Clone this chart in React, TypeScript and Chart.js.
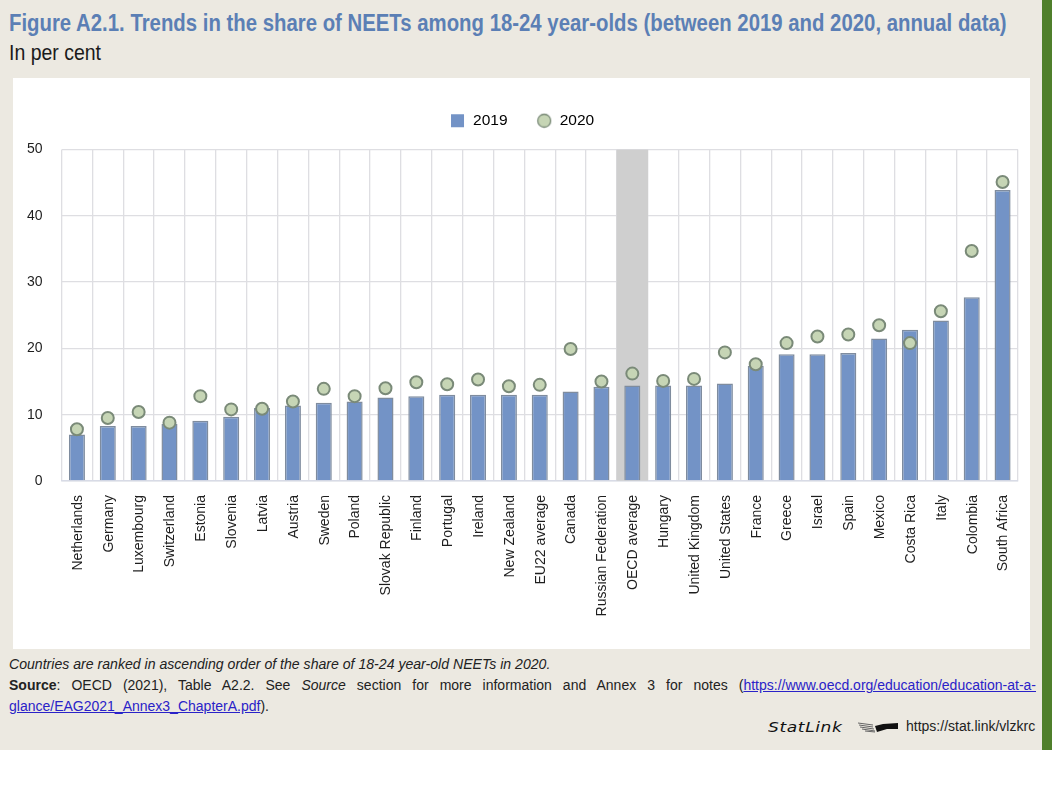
import React, { useEffect, useRef } from 'react';
import { Chart, registerables } from 'chart.js';

Chart.register(...registerables);

const countries = [
  'Netherlands', 'Germany', 'Luxembourg', 'Switzerland', 'Estonia', 'Slovenia', 'Latvia', 'Austria',
  'Sweden', 'Poland', 'Slovak Republic', 'Finland', 'Portugal', 'Ireland', 'New Zealand', 'EU22 average',
  'Canada', 'Russian Federation', 'OECD average', 'Hungary', 'United Kingdom', 'United States', 'France',
  'Greece', 'Israel', 'Spain', 'Mexico', 'Costa Rica', 'Italy', 'Colombia', 'South Africa',
];
const values2019 = [
  7.0, 8.3, 8.3, 8.6, 9.1, 9.7, 11.0, 11.4, 11.8, 12.0, 12.6, 12.8, 13.0, 13.0, 13.0, 13.0,
  13.5, 14.2, 14.4, 14.4, 14.4, 14.7, 17.4, 19.1, 19.1, 19.3, 21.5, 22.8, 24.2, 27.7, 43.9,
];
const values2020 = [
  7.8, 9.5, 10.4, 8.8, 12.8, 10.8, 10.9, 12.0, 13.9, 12.8, 14.0, 14.9, 14.6, 15.3, 14.3, 14.5,
  19.9, 15.0, 16.2, 15.1, 15.4, 19.4, 17.6, 20.8, 21.8, 22.1, 23.5, 20.8, 25.6, 34.7, 45.1,
];
// grey band behind the OECD average column
const oecdBand = countries.map((c) => (c === 'OECD average' ? 50 : null));

const BAR = '#7393C6';
const BAR_EDGE = '#7F8C9E';
const DOT = '#C6D5B5';
const DOT_EDGE = '#7A8A78';
const GRID = '#DEDEE2';
const TEXT = '#1E1E1E';
const ARIAL = '"Liberation Sans", Arial, sans-serif';

// legend circle is smaller than chart.js would draw it next to a 13px square
function legendDot() {
  const c = document.createElement('canvas');
  c.width = 16;
  c.height = 16;
  const ctx = c.getContext('2d')!;
  ctx.beginPath();
  ctx.arc(8, 8, 6.5, 0, Math.PI * 2);
  ctx.fillStyle = DOT;
  ctx.fill();
  ctx.lineWidth = 1.3;
  ctx.strokeStyle = DOT_EDGE;
  ctx.stroke();
  return c;
}

export default function App() {
  const canvasRef = useRef<HTMLCanvasElement>(null);

  useEffect(() => {
    const dot = legendDot();
    const chart = new Chart(canvasRef.current!, {
      data: {
        labels: countries,
        datasets: [
          {
            type: 'line',
            label: '2020',
            data: values2020,
            showLine: false,
            pointStyle: 'circle',
            pointRadius: 6,
            pointBackgroundColor: DOT,
            pointBorderColor: DOT_EDGE,
            pointBorderWidth: 2,
            backgroundColor: DOT,
            borderColor: DOT_EDGE,
            order: 1,
          },
          {
            type: 'bar',
            label: '2019',
            data: values2019,
            backgroundColor: BAR,
            borderColor: BAR_EDGE,
            borderWidth: 1.5,
            barPercentage: 0.52,
            categoryPercentage: 1,
            grouped: false,
            order: 2,
          },
          {
            type: 'bar',
            label: 'OECD band',
            data: oecdBand,
            backgroundColor: '#CFCFCF',
            borderWidth: 0,
            barPercentage: 1,
            categoryPercentage: 1,
            grouped: false,
            order: 3,
          },
        ],
      },
      options: {
        responsive: false,
        animation: false,
        layout: { padding: { top: 6, right: 12, left: 13, bottom: 0 } },
        plugins: {
          tooltip: { enabled: false },
          legend: {
            position: 'top',
            align: 'center',
            labels: {
              usePointStyle: true,
              boxHeight: 13,
              padding: 29,
              color: TEXT,
              font: { family: ARIAL, size: 15.5 },
              generateLabels: () => [
                { text: '2019', pointStyle: 'rect', fillStyle: BAR, strokeStyle: BAR, lineWidth: 0 },
                { text: '2020', pointStyle: dot, fillStyle: DOT, strokeStyle: DOT_EDGE, lineWidth: 1.3 },
              ],
            },
          },
        },
        scales: {
          x: {
            grid: { color: GRID, lineWidth: 1.3, drawTicks: false },
            border: { color: '#D8DBE6', width: 1.5 },
            afterFit: (axis: any) => {
              axis.height = 168;
              // rotated labels otherwise eat into the plot width
              axis.paddingLeft = 0;
              axis.paddingRight = 0;
            },
            ticks: {
              minRotation: 90,
              maxRotation: 90,
              autoSkip: false,
              padding: 14,
              labelOffset: 1,
              color: TEXT,
              font: { family: ARIAL, size: 14 },
            },
          },
          y: {
            min: 0,
            max: 50,
            grid: { color: GRID, lineWidth: 1.3, drawTicks: false },
            border: { display: false },
            afterFit: (axis: any) => { axis.width = 35.5; },
            ticks: {
              stepSize: 10,
              padding: 19,
              color: TEXT,
              font: { family: ARIAL, size: 14 },
            },
          },
        },
      },
      plugins: [
        {
          // push the plot down from the legend
          id: 'legendGap',
          beforeLayout: (c: any) => {
            const legend = c.legend;
            if (legend.gapAdded) return;
            legend.gapAdded = true;
            const fit = legend.fit;
            legend.fit = function () {
              fit.call(this);
              this.height += 11;
            };
          },
        },
      ],
    } as any);
    return () => chart.destroy();
  }, []);

  return (
    <div style={{ position: 'absolute', left: 0, top: 0, width: 1057, height: 792, background: '#fff', overflow: 'hidden', fontFamily: ARIAL }}>
      <div style={{ position: 'absolute', left: 0, top: 0, width: 1042, height: 750, background: '#ECE9E1' }} />
      <div style={{ position: 'absolute', left: 1042, top: 0, width: 10, height: 750, background: '#4F7F2B' }} />
      <div style={{ position: 'absolute', left: 9, top: 9, whiteSpace: 'nowrap', fontWeight: 700, fontSize: 24, color: '#5B7FB5', transform: 'scaleX(0.848)', transformOrigin: 'left top' }}>
        Figure A2.1. Trends in the share of NEETs among 18-24 year-olds (between 2019 and 2020, annual data)
      </div>
      <div style={{ position: 'absolute', left: 9, top: 40, whiteSpace: 'nowrap', fontSize: 22, color: '#1A1A1A', transform: 'scaleX(0.885)', transformOrigin: 'left top' }}>
        In per cent
      </div>
      <div style={{ position: 'absolute', left: 13, top: 78, width: 1017, height: 571, background: '#fff' }}>
        <canvas ref={canvasRef} width={1017} height={571} style={{ display: 'block' }} />
      </div>
      <div style={{ position: 'absolute', left: 9, top: 656, whiteSpace: 'nowrap', fontStyle: 'italic', fontSize: 14.1, color: '#222' }}>
        Countries are ranked in ascending order of the share of 18-24 year-old NEETs in 2020.
      </div>
      <div style={{ position: 'absolute', left: 9, top: 675, width: 1027, fontSize: 14, lineHeight: '20.5px', color: '#222', textAlign: 'justify' }}>
        <b>Source</b>: OECD (2021), Table A2.2. See <i>Source</i> section for more information and Annex 3 for notes (
        <span style={{ color: '#2A22C8', textDecoration: 'underline' }}>https://www.oecd.org/education/education-at-a-glance/EAG2021_Annex3_ChapterA.pdf</span>).
      </div>
      <div style={{ position: 'absolute', left: 768, top: 719, whiteSpace: 'nowrap', fontFamily: '"DejaVu Sans", sans-serif', fontStyle: 'italic', fontSize: 14, letterSpacing: 0.5, color: '#111', transform: 'scaleX(1.22)', transformOrigin: 'left top' }}>
        StatLink
      </div>
      <svg style={{ position: 'absolute', left: 857, top: 722 }} width="41" height="11">
        <path d="M1 1 L16 3 M2 3 L16 5 M3 5 L17 7 M5 7 L18 9 M8 9 L18 10" stroke="#666" strokeWidth="1" fill="none" />
        <path d="M18 4 L26 2 L41 1 L41 7 L30 7 L20 10 Z" fill="#111" />
      </svg>
      <div style={{ position: 'absolute', left: 906, top: 718, whiteSpace: 'nowrap', fontSize: 14, color: '#222' }}>
        https://stat.link/vlzkrc
      </div>
    </div>
  );
}
